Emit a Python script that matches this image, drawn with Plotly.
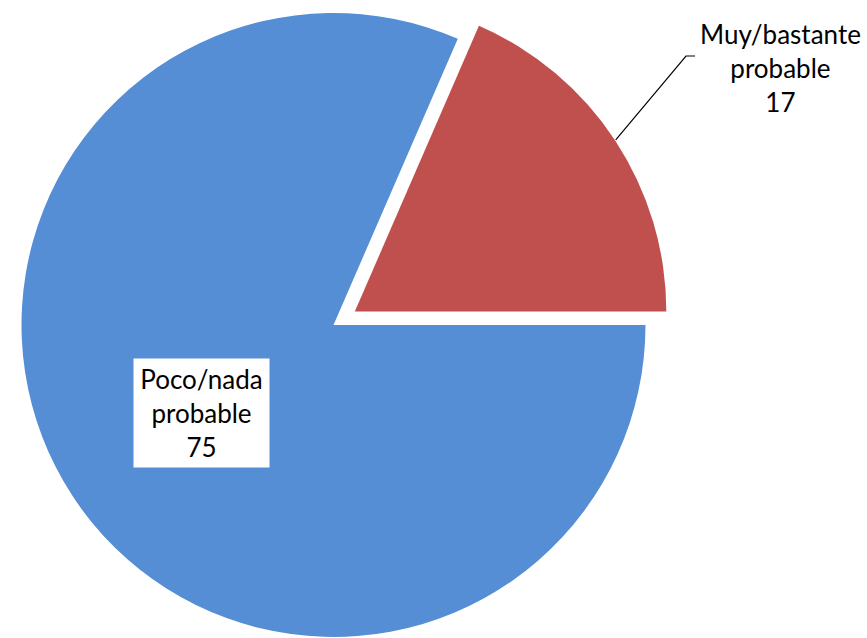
import math

import plotly.graph_objects as go

# data
labels = ["Muy/bastante probable", "Poco/nada probable"]
label_lines = [["Muy/bastante", "probable"], ["Poco/nada", "probable"]]
values = [17, 75]
colors = ["#C0504D", "#558ED5"]

W, H = 867, 638
FONT = "Lato"

# geometry in pixels
cx, cy = 333.5, 325.0
radius = 312.0
pull_px = 25.5

total = sum(values)
red_span = 360.0 * values[0] / total
rotation = 90.0 - red_span          # red slice ends at 3 o'clock
mid = math.radians(rotation + red_span / 2)


def px(x):
    return x / W


def py(y):
    return 1 - y / H


def domain_for(x0, y0):
    return dict(
        x=[px(x0 - radius), px(x0 + radius)],
        y=[max(0.0, py(y0 + radius)), min(1.0, py(y0 - radius))],
    )


# exploded slice centre
rx0 = cx + pull_px * math.sin(mid)
ry0 = cy - pull_px * math.cos(mid)

clear = "rgba(0,0,0,0)"

fig = go.Figure()

# main (blue) slice
fig.add_trace(
    go.Pie(
        labels=labels,
        values=values,
        sort=False,
        direction="clockwise",
        rotation=rotation,
        marker=dict(colors=[clear, colors[1]], line=dict(width=0)),
        textinfo="none",
        hoverinfo="skip",
        showlegend=False,
        domain=domain_for(cx, cy),
    )
)

# exploded (red) slice
fig.add_trace(
    go.Pie(
        labels=labels,
        values=values,
        sort=False,
        direction="clockwise",
        rotation=rotation,
        marker=dict(colors=[colors[0], clear], line=dict(width=0)),
        textinfo="none",
        hoverinfo="skip",
        showlegend=False,
        domain=domain_for(rx0, ry0),
    )
)

# leader line for the red label
lx0 = rx0 + radius * math.sin(mid)
ly0 = ry0 - radius * math.cos(mid)
fig.add_shape(
    type="path",
    xref="paper",
    yref="paper",
    path=f"M {px(lx0)} {py(ly0)} L {px(686)} {py(56)} L {px(695)} {py(56)}",
    line=dict(color="black", width=1.2),
)

fig.add_annotation(
    x=px(780.5),
    y=py(68),
    xref="paper",
    yref="paper",
    xanchor="center",
    yanchor="middle",
    text="<br>".join(label_lines[0] + [str(values[0])]),
    showarrow=False,
    align="center",
    font=dict(family=FONT, size=26, color="black"),
)

fig.add_annotation(
    x=px(201.5),
    y=py(413),
    xref="paper",
    yref="paper",
    xanchor="center",
    yanchor="middle",
    text="<br>".join(label_lines[1] + [str(values[1])]),
    showarrow=False,
    align="center",
    width=131,
    height=104,
    borderpad=2,
    bgcolor="white",
    font=dict(family=FONT, size=26, color="black"),
)

fig.update_layout(
    width=W,
    height=H,
    margin=dict(l=0, r=0, t=0, b=0),
    paper_bgcolor="white",
    plot_bgcolor="white",
)

fig.write_html(
    "out.html",
    config={"displayModeBar": False},
    post_script="document.body.style.margin = '0';",
)
